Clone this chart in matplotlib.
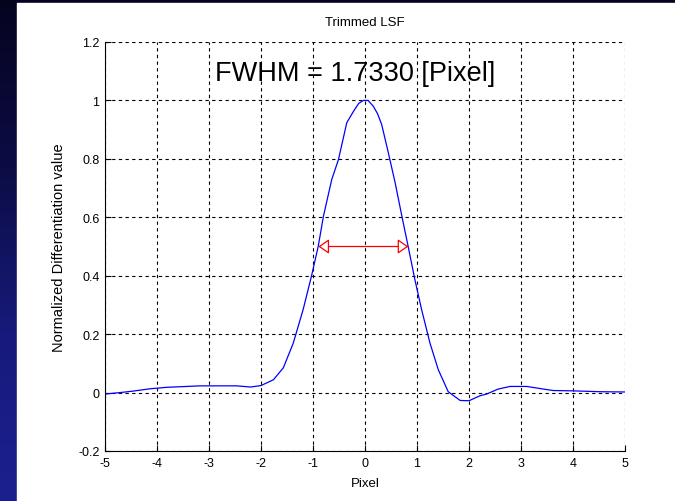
import numpy as np
import matplotlib
matplotlib.use('Agg')
import matplotlib.pyplot as plt
from matplotlib.colors import LinearSegmentedColormap

# LSF curve
pixel = [-5.0, -4.71, -4.46, -4.13, -3.81, -3.17, -2.47, -2.2, -2.0, -1.76,
         -1.57, -1.38, -1.19, -1.03, -0.90, -0.80, -0.64, -0.51, -0.35, -0.22,
         -0.12, -0.03, 0.06, 0.16, 0.24, 0.32, 0.45, 0.58, 0.71, 0.83, 0.96, 1.09,
         1.25, 1.41, 1.60, 1.83, 2.0, 2.21, 2.34, 2.56, 2.79, 3.11,
         3.43, 3.62, 3.98, 4.5, 5.0]
lsf = [-0.005, 0.0, 0.005, 0.013, 0.018, 0.023, 0.023, 0.019, 0.024, 0.044,
       0.085, 0.169, 0.284, 0.398, 0.50, 0.603, 0.729, 0.798, 0.924, 0.963,
       0.99, 1.0, 1.0, 0.98, 0.955, 0.918, 0.82, 0.718, 0.603, 0.50, 0.386, 0.283,
       0.169, 0.078, 0.003, -0.027, -0.028, -0.011, -0.005, 0.012, 0.021, 0.021,
       0.012, 0.007, 0.006, 0.003, 0.002]

fwhm_left = -0.898
fwhm_right = 0.835
half_max = 0.5
fwhm_text = 'FWHM = 1.7330 [Pixel]'

x_ticks = [-5, -4, -3, -2, -1, 0, 1, 2, 3, 4, 5]
y_ticks = [-0.2, 0, 0.2, 0.4, 0.6, 0.8, 1, 1.2]
y_ticklabels = ['-0.2', '0', '0.2', '0.4', '0.6', '0.8', '1', '1.2']

plt.rcParams['font.family'] = ['Liberation Sans', 'DejaVu Sans']
plt.rcParams['axes.unicode_minus'] = False

fig = plt.figure(figsize=(6.75, 5.02), dpi=100)

# slide background: dark navy gradient, white panel
bg = fig.add_axes([0, 0, 1, 1], zorder=-10)
bg.set_axis_off()
cmap = LinearSegmentedColormap.from_list('slide', ['#05041f', '#0c0c45', '#171a7a', '#1b2090'])
grad = np.linspace(0, 1, 256).reshape(-1, 1)
bg.imshow(grad, aspect='auto', cmap=cmap, extent=[0, 1, 0, 1], origin='upper')
bg.add_patch(plt.Rectangle((17 / 675, 0), 1, 1 - 4 / 502, color='white'))
bg.set_xlim(0, 1)
bg.set_ylim(0, 1)

ax = fig.add_axes([105 / 675, 1 - 452 / 502, 520 / 675, 409 / 502])
ax.plot(pixel, lsf, color='blue', linewidth=0.9)

ax.annotate('', xy=(fwhm_left, half_max), xytext=(fwhm_right, half_max),
            arrowprops=dict(arrowstyle='<|-|>,head_length=0.65,head_width=0.45',
                            color='red', fc='white', lw=0.9, shrinkA=0, shrinkB=0,
                            mutation_scale=10))

ax.text(-2.88, 1.095, fwhm_text, fontsize=19.5, ha='left', va='center')

ax.set_xlim(-5, 5)
ax.set_ylim(-0.2, 1.2)
ax.set_xticks(x_ticks)
ax.set_yticks(y_ticks)
ax.set_yticklabels(y_ticklabels)
ax.tick_params(direction='in', length=4, width=0.8, labelsize=9, pad=4)
ax.grid(True, color='black', linestyle=(0, (3, 3)), linewidth=0.8)
ax.spines['top'].set_visible(False)
ax.spines['right'].set_visible(False)

ax.set_title('Trimmed LSF', fontsize=9.5, pad=12)
ax.set_xlabel('Pixel', fontsize=9.5, labelpad=6)
ax.set_ylabel('Normalized Differentiation value', fontsize=10.5, labelpad=9)

fig.savefig('out.png', dpi=100)
